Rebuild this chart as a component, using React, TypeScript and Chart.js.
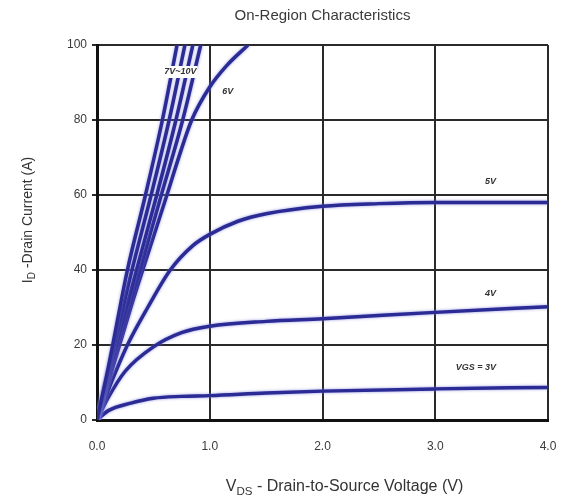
import React, { useEffect, useRef } from "react";
import { Chart, registerables } from "chart.js";

Chart.register(...registerables);

// ---- data ----
const seriesNames = ["10V", "9V", "8V", "7V", "6V", "5V", "4V", "3V"];

const vds10 = [0, 0.1, 0.27, 0.43, 0.58, 0.71];
const id10 = [0, 14, 40, 60, 80, 100];
const vds9 = [0, 0.1, 0.31, 0.48, 0.64, 0.78];
const id9 = [0, 13, 40, 60, 80, 100];
const vds8 = [0, 0.1, 0.35, 0.53, 0.7, 0.85];
const id8 = [0, 12, 40, 60, 80, 100];
const vds7 = [0, 0.1, 0.38, 0.57, 0.76, 0.92];
const id7 = [0, 11, 40, 60, 80, 100];
const vds6 = [0, 0.15, 0.3, 0.47, 0.62, 0.73, 0.84, 1.0, 1.15, 1.34];
const id6 = [0, 15, 30, 46, 60, 70.5, 80, 88.8, 94.5, 100];
const vds5 = [0, 0.1, 0.27, 0.45, 0.65, 0.85, 1.0, 1.25, 1.5, 2.0, 2.5, 3.0, 4.0];
const id5 = [0, 8, 20, 30, 40, 46.5, 49.5, 53, 55, 57, 57.7, 58, 58];
const vds4 = [0, 0.1, 0.25, 0.5, 0.75, 1.0, 1.5, 2.0, 3.0, 4.0];
const id4 = [0, 6, 13, 19.5, 23.3, 25, 26.3, 27, 28.7, 30.2];
const vds3 = [0, 0.1, 0.3, 0.5, 0.75, 1.0, 1.5, 2.0, 3.0, 4.0];
const id3 = [0, 2.5, 4.5, 5.8, 6.3, 6.5, 7.2, 7.7, 8.3, 8.7];

const xTicks = [0, 1, 2, 3, 4];
const yTicks = [0, 20, 40, 60, 80, 100];

const curveLabels = ["7V~10V", "6V", "5V", "4V", "VGS = 3V"];
const curveLabelX = [0.74, 1.16, 3.49, 3.49, 3.36];
const curveLabelY = [92.8, 87.7, 63.5, 33.6, 14.1];

const titleText = "On-Region Characteristics";

const FONT = "Arial, 'Liberation Sans', sans-serif";
const LINE = "#2b2b95";
const TEXT = "#3a3a3a";

function pts(xs: number[], ys: number[]) {
  return xs.map((x, i) => ({ x, y: ys[i] }));
}

const allX = [vds10, vds9, vds8, vds7, vds6, vds5, vds4, vds3];
const allY = [id10, id9, id8, id7, id6, id5, id4, id3];

function drawSub(
  ctx: CanvasRenderingContext2D,
  main: string,
  sub: string,
  rest: string,
  size: number,
  x: number,
  y: number
) {
  ctx.font = `${size}px ${FONT}`;
  const w1 = ctx.measureText(main).width;
  const w3 = ctx.measureText(rest).width;
  ctx.font = `${size * 0.72}px ${FONT}`;
  const w2 = ctx.measureText(sub).width;
  const total = w1 + w2 + w3;
  let cx = x - total / 2;
  ctx.textAlign = "left";
  ctx.textBaseline = "middle";
  ctx.font = `${size}px ${FONT}`;
  ctx.fillText(main, cx, y);
  cx += w1;
  ctx.font = `${size * 0.72}px ${FONT}`;
  ctx.fillText(sub, cx, y + size * 0.3);
  cx += w2;
  ctx.font = `${size}px ${FONT}`;
  ctx.fillText(rest, cx, y);
}

const annotPlugin = {
  id: "annot",
  beforeDatasetDraw(chart: any) {
    const ctx = chart.ctx;
    ctx.save();
    ctx.shadowColor = "rgba(120,120,215,0.8)";
    ctx.shadowBlur = 3;
  },
  afterDatasetDraw(chart: any) {
    chart.ctx.restore();
  },
  afterDraw(chart: any) {
    const ctx = chart.ctx as CanvasRenderingContext2D;
    const xs = chart.scales.x;
    const ys = chart.scales.y;
    const area = chart.chartArea;
    ctx.save();
    ctx.fillStyle = TEXT;
    // title
    ctx.font = `15px ${FONT}`;
    ctx.textAlign = "center";
    ctx.textBaseline = "middle";
    ctx.fillText(titleText, (area.left + area.right) / 2, 16);
    // curve labels
    curveLabels.forEach((t, i) => {
      const px = xs.getPixelForValue(curveLabelX[i]);
      const py = ys.getPixelForValue(curveLabelY[i]);
      ctx.font = `italic bold 9px ${FONT}`;
      const w = ctx.measureText(t).width;
      ctx.fillStyle = "#ffffff";
      ctx.fillRect(px - w / 2 - 1, py - 6, w + 2, 12);
      ctx.fillStyle = "#333";
      ctx.textAlign = "center";
      ctx.textBaseline = "middle";
      ctx.fillText(t, px, py);
    });
    // x title
    drawSub(ctx, "V", "DS", " - Drain-to-Source Voltage (V)", 16, (area.left + area.right) / 2 + 22, 487);
    // y title
    ctx.translate(28, 220);
    ctx.rotate(-Math.PI / 2);
    drawSub(ctx, "I", "D", " -Drain Current (A)", 14, 0, 0);
    ctx.restore();
  },
};

export default function App() {
  const ref = useRef<HTMLCanvasElement | null>(null);
  useEffect(() => {
    if (!ref.current) return;
    const chart = new Chart(ref.current, {
      type: "line",
      data: {
        datasets: seriesNames.map((n, i) => ({
          label: n,
          data: pts(allX[i], allY[i]),
          borderColor: LINE,
          backgroundColor: LINE,
          borderWidth: 3.5,
          pointRadius: 0,
          cubicInterpolationMode: "monotone" as const,
          fill: false,
        })),
      },
      options: {
        animation: false,
        responsive: true,
        maintainAspectRatio: false,
        events: [],
        layout: { padding: { left: 0, right: 13, top: 45, bottom: 0 } },
        plugins: {
          legend: { display: false },
          title: { display: false },
          tooltip: { enabled: false },
        },
        scales: {
          x: {
            type: "linear",
            min: 0,
            max: 4,
            afterBuildTicks: (s: any) => {
              s.ticks = xTicks.map((v) => ({ value: v }));
            },
            afterFit: (s: any) => {
              s.height = 81;
              s.paddingLeft = 0;
              s.paddingRight = 0;
            },
            ticks: {
              color: TEXT,
              font: { size: 12, family: FONT },
              padding: 19,
              callback: (v: any) => Number(v).toFixed(1),
            },
            grid: { color: "#2a2a2a", lineWidth: 2, tickLength: 0 },
            border: { color: "#111", width: 3 },
          },
          y: {
            type: "linear",
            min: 0,
            max: 100,
            afterBuildTicks: (s: any) => {
              s.ticks = yTicks.map((v) => ({ value: v }));
            },
            afterFit: (s: any) => {
              s.width = 97;
              s.paddingTop = 0;
              s.paddingBottom = 0;
            },
            ticks: {
              color: TEXT,
              font: { size: 12, family: FONT },
              padding: 5,
            },
            grid: { color: "#2a2a2a", lineWidth: 2, tickLength: 5 },
            border: { color: "#111", width: 3 },
          },
        },
      },
      plugins: [annotPlugin],
    } as any);
    return () => chart.destroy();
  }, []);
  return (
    <div
      style={{
        position: "fixed",
        left: 0,
        top: 0,
        width: 561,
        height: 501,
        background: "#fff",
      }}
    >
      <canvas ref={ref} />
    </div>
  );
}
